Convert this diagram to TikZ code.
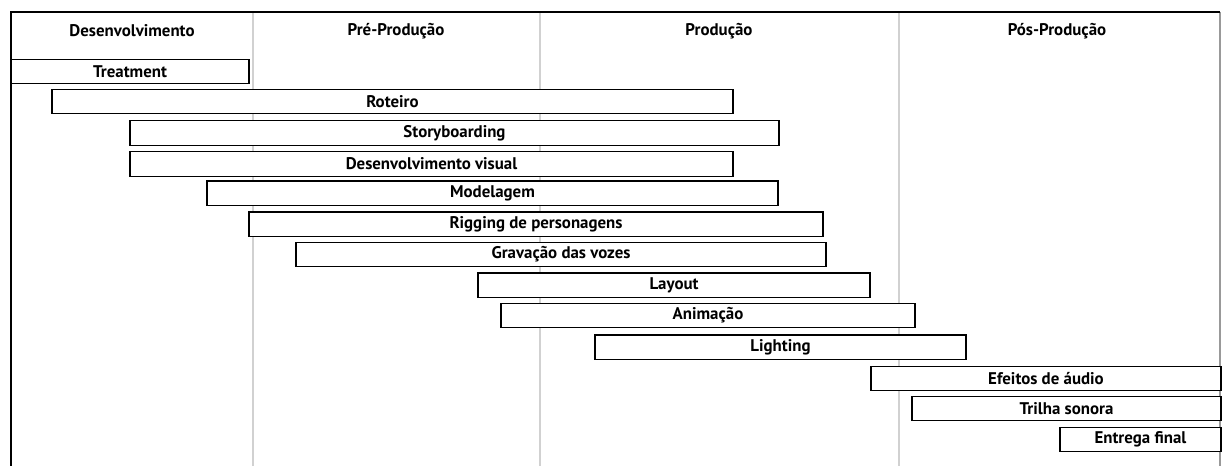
\documentclass[tikz,border=0pt]{standalone}
\usepackage{fontspec}
\setmainfont{PT Sans}

\begin{document}
\begin{tikzpicture}[x=0.02cm, y=-0.02cm,
	task/.style={draw, line width=0.85pt, fill=white, minimum height=0.49cm, inner sep=0pt, font=\fontsize{9.6}{11}\selectfont\bfseries},
	phase/.style={font=\fontsize{9.6}{11}\selectfont\bfseries},
	divider/.style={draw=black!18, line width=0.6pt}]
			\useasboundingbox (0,0) rectangle (1223,466);

			% Frame and phase dividers
			\coordinate (tl) at (11,12);
			\coordinate (tr) at (1220,12);
			\coordinate (bl) at (11,466);
			\coordinate (br) at (1220,466);
			\draw[black!40, line width=0.6pt] (tr) -- (br);
			\foreach \xd/\nm in {253/da, 540/db, 899/dc} {
				\coordinate (\nm top) at (\xd,12);
				\coordinate (\nm bot) at (\xd,466);
				\draw[divider] (\nm top) -- (\nm bot);
			}
			\draw[line width=1.2pt] (bl) -- (tl) -- (tr);

			% Phases
			\node[phase] (desen) at (132,31) {Desenvolvimento};
			\node[phase] (pre) at (396,31) {Pré-Produção};
			\node[phase] (prod) at (719,31) {Produção};
			\node[phase] (pos) at (1057,31) {Pós-Produção};

			% Tasks
			\node[task, minimum width=4.76cm] (treat) at (130,71.5) {Treatment};
			\node[task, minimum width=13.62cm] (rot) at (392.5,101.5) {Roteiro};
			\node[task, minimum width=12.98cm] (story) at (454.5,133) {Storyboarding};
			\node[task, minimum width=12.06cm] (visual) at (431.5,164) {Desenvolvimento visual};
			\node[task, minimum width=11.42cm] (model) at (492.5,193) {Modelagem};
			\node[task, minimum width=11.48cm] (rig) at (536,224) {Rigging de personagens};
			\node[task, minimum width=10.6cm] (vozes) at (561,254.5) {Gravação das vozes};
			\node[task, minimum width=7.84cm] (layout) at (674,285) {Layout};
			\node[task, minimum width=8.28cm] (anim) at (708,315.5) {Animação};
			\node[task, minimum width=7.42cm] (light) at (780.5,347) {Lighting};
			\node[task, minimum width=7.0cm] (audio) at (1046,378.5) {Efeitos de áudio};
			\node[task, minimum width=6.18cm] (trilha) at (1066.5,408.5) {Trilha sonora};
			\node[task, minimum width=3.22cm] (entrega) at (1140.5,439.5) {Entrega final};
		\end{tikzpicture}
\end{document}
